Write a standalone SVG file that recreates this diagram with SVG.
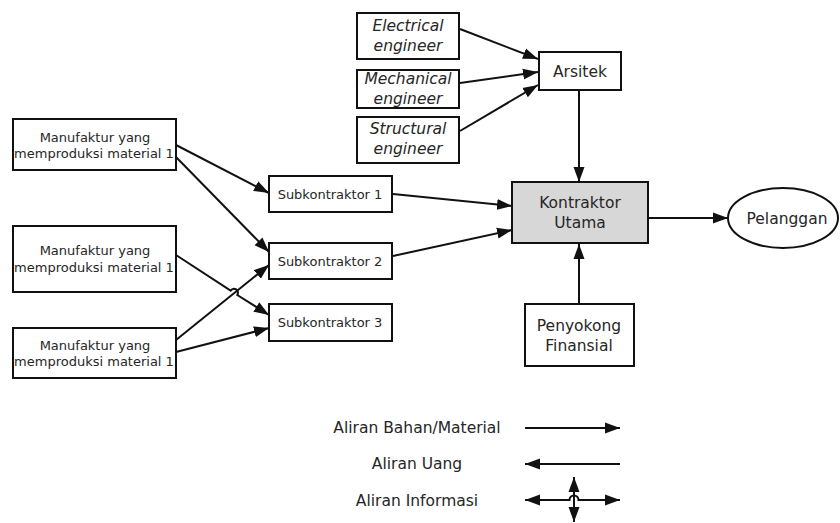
<svg xmlns="http://www.w3.org/2000/svg" width="840" height="523" viewBox="0 0 840 523">
  <style>
    .box { fill: #ffffff; stroke: #111111; stroke-width: 2; }
    .main { fill: #d7d7d7; stroke: #111111; stroke-width: 2; }
    .t { font-family: "DejaVu Sans", Verdana, sans-serif; fill: #262626; text-anchor: middle; }
    .sm { font-size: 13px; }
    .lg { font-size: 15.5px; }
    .it { font-style: italic; }
    .flow { fill: none; stroke: #111111; stroke-width: 2; }
    .end { marker-end: url(#head); }
    .both { marker-start: url(#tail); marker-end: url(#head); }
  </style>
  <defs>
    <marker id="head" markerUnits="userSpaceOnUse" markerWidth="16" markerHeight="12" refX="15" refY="6" orient="auto">
      <path d="M0,0.5 L15,6 L0,11.5 z" fill="#111111"/>
    </marker>
    <marker id="tail" markerUnits="userSpaceOnUse" markerWidth="16" markerHeight="12" refX="0" refY="6" orient="auto">
      <path d="M15,0.5 L0,6 L15,11.5 z" fill="#111111"/>
    </marker>
  </defs>

  <rect width="840" height="523" fill="#ffffff"/>

  <!-- connectors -->
  <g id="connectors">
    <!-- engineers to architect -->
    <line class="flow end" x1="460" y1="29" x2="538" y2="59"/>
    <line class="flow end" x1="460" y1="83" x2="538" y2="72"/>
    <line class="flow end" x1="460" y1="131" x2="538" y2="85"/>
    <!-- architect to main contractor -->
    <line class="flow end" x1="579" y1="90" x2="579" y2="182"/>
    <!-- financier to main contractor -->
    <line class="flow end" x1="579" y1="304" x2="579" y2="244"/>
    <!-- main contractor to customer -->
    <line class="flow end" x1="648" y1="218" x2="728" y2="218"/>
    <!-- subcontractors to main contractor -->
    <line class="flow end" x1="393" y1="194" x2="512" y2="206"/>
    <line class="flow end" x1="393" y1="256" x2="512" y2="230"/>
    <!-- manufacturers to subcontractors -->
    <line class="flow end" x1="176" y1="145" x2="269" y2="193"/>
    <line class="flow end" x1="176" y1="157" x2="269" y2="252"/>
    <path class="flow end" d="M176,255 L230.6,290.6 A4,4 0 0 1 237.3,295 L269,315"/>
    <line class="flow end" x1="176" y1="340" x2="269" y2="265"/>
    <line class="flow end" x1="176" y1="352" x2="269" y2="328"/>
  </g>

  <!-- nodes -->
  <g id="electrical">
    <rect class="box" x="357" y="13" width="102" height="46"/>
    <text class="t lg it" x="408" y="30.5">Electrical</text>
    <text class="t lg it" x="408" y="50.5">engineer</text>
  </g>
  <g id="mechanical">
    <rect class="box" x="357" y="70" width="102" height="38"/>
    <text class="t lg it" x="408" y="83.5">Mechanical</text>
    <text class="t lg it" x="408" y="103.5">engineer</text>
  </g>
  <g id="structural">
    <rect class="box" x="357" y="117" width="102" height="46"/>
    <text class="t lg it" x="408" y="133.5">Structural</text>
    <text class="t lg it" x="408" y="153.5">engineer</text>
  </g>
  <g id="arsitek">
    <rect class="box" x="539" y="52" width="82" height="38"/>
    <text class="t lg" x="580" y="76.5">Arsitek</text>
  </g>
  <g id="kontraktor-utama">
    <rect class="main" x="512" y="182" width="136" height="61"/>
    <text class="t lg" x="580" y="207.5">Kontraktor</text>
    <text class="t lg" x="580" y="227.5">Utama</text>
  </g>
  <g id="pelanggan">
    <ellipse class="box" cx="783" cy="218" rx="55" ry="30"/>
    <text class="t lg" x="787" y="223.5">Pelanggan</text>
  </g>
  <g id="penyokong">
    <rect class="box" x="525" y="304" width="109" height="62"/>
    <text class="t lg" x="579" y="330.5">Penyokong</text>
    <text class="t lg" x="579" y="350.5">Finansial</text>
  </g>
  <g id="manufaktur-1">
    <rect class="box" x="13" y="119" width="163" height="51"/>
    <text class="t sm" x="95" y="142">Manufaktur yang</text>
    <text class="t sm" x="94" y="158">memproduksi material 1</text>
  </g>
  <g id="manufaktur-2">
    <rect class="box" x="13" y="226" width="163" height="66"/>
    <text class="t sm" x="95" y="255">Manufaktur yang</text>
    <text class="t sm" x="94" y="272">memproduksi material 1</text>
  </g>
  <g id="manufaktur-3">
    <rect class="box" x="13" y="328" width="163" height="50"/>
    <text class="t sm" x="95" y="350">Manufaktur yang</text>
    <text class="t sm" x="94" y="366">memproduksi material 1</text>
  </g>
  <g id="subkontraktor-1">
    <rect class="box" x="269" y="176" width="123" height="36"/>
    <text class="t sm" x="330" y="199">Subkontraktor 1</text>
  </g>
  <g id="subkontraktor-2">
    <rect class="box" x="269" y="243" width="123" height="36"/>
    <text class="t sm" x="330" y="266">Subkontraktor 2</text>
  </g>
  <g id="subkontraktor-3">
    <rect class="box" x="269" y="304" width="123" height="37"/>
    <text class="t sm" x="330" y="327">Subkontraktor 3</text>
  </g>

  <!-- legend -->
  <g id="legend">
    <text class="t lg" x="417" y="432.5">Aliran Bahan/Material</text>
    <line class="flow end" x1="525" y1="428" x2="620" y2="428"/>
    <text class="t lg" x="417" y="468.5">Aliran Uang</text>
    <line class="flow end" x1="620" y1="464" x2="525" y2="464"/>
    <text class="t lg" x="417" y="505.5">Aliran Informasi</text>
    <path class="flow both" d="M525,500 L569.5,500 A4.5,4.5 0 0 1 578.5,500 L620,500"/>
    <line class="flow both" x1="574" y1="477" x2="574" y2="522"/>
  </g>
</svg>
